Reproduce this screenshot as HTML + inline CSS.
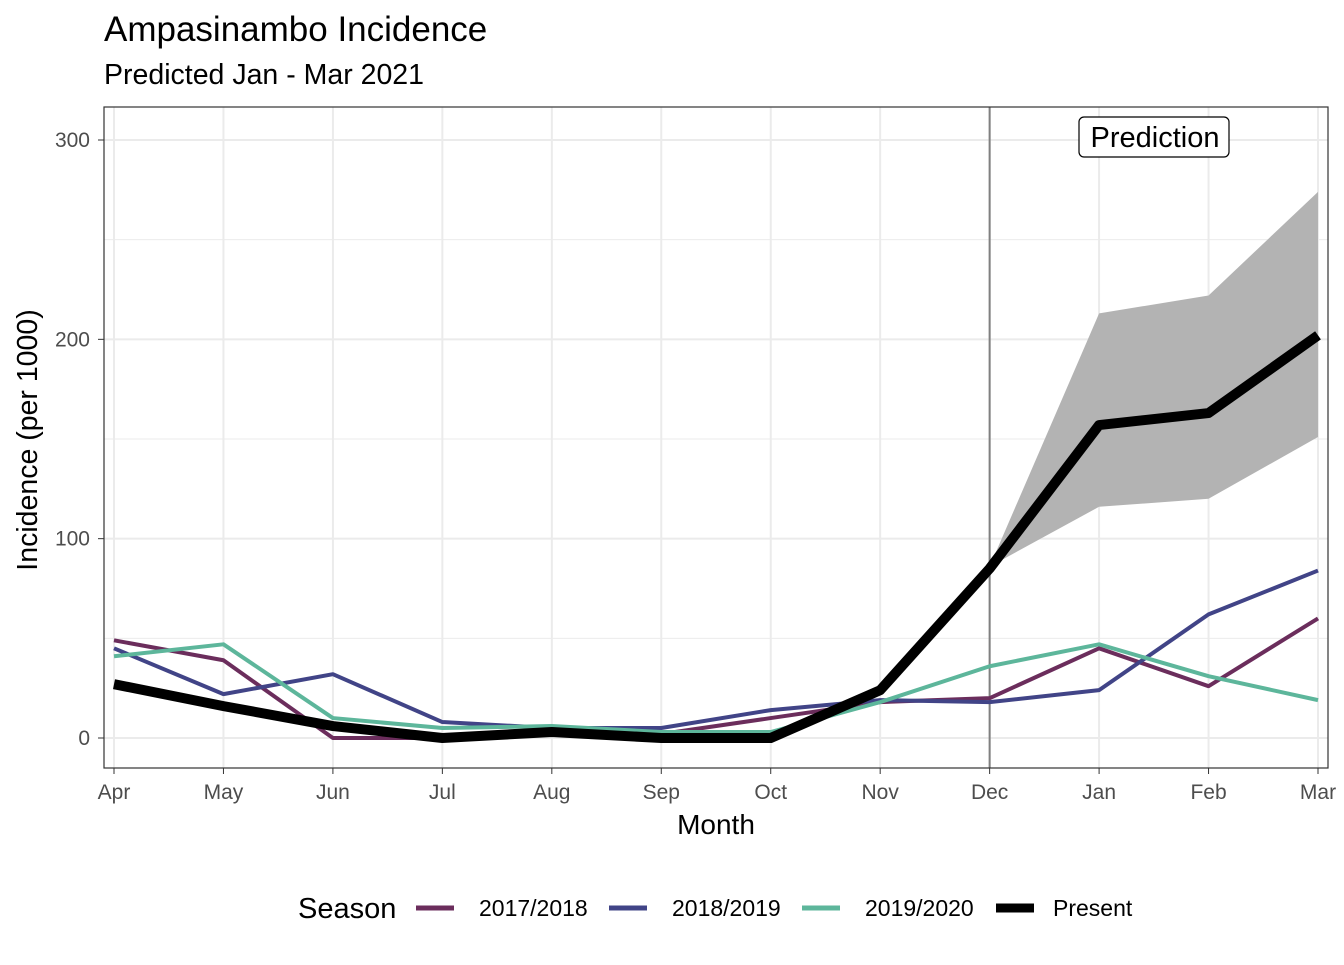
<!DOCTYPE html>
<html><head><meta charset="utf-8"><style>
body{margin:0;background:#fff;font-family:"Liberation Sans",sans-serif;}
svg text{font-family:"Liberation Sans",sans-serif;}
</style></head><body>
<svg id="chart" width="1344" height="960">
<text x="104" y="41" font-size="35" fill="#000">Ampasinambo Incidence</text>
<text x="104" y="84" font-size="28.5" fill="#000">Predicted Jan - Mar 2021</text>
<g id="grid"></g><g id="marks"></g><g id="axes"></g>
<text x="716" y="834" font-size="28" text-anchor="middle">Month</text>
<text transform="translate(37,440) rotate(-90)" font-size="28.5" text-anchor="middle">Incidence (per 1000)</text>
<g id="legend"></g>
</svg>
<script>
const months=["Apr","May","Jun","Jul","Aug","Sep","Oct","Nov","Dec","Jan","Feb","Mar"];
const s2017=[49,39,0,0,3,2,10,18,20,45,26,60];
const s2018=[45,22,32,8,5,5,14,19,18,24,62,84];
const s2019=[41,47,10,5,6,3,3,18,36,47,31,19];
const present=[27,16,6,0,3,0,0,24,85,157,163,202];
const ribbonMonths=[8,9,10,11];
const ribbonLow=[86,116,120,151];
const ribbonHigh=[86,213,222,274];
const yTicks=[0,100,200,300];
const seriesNames=["2017/2018","2018/2019","2019/2020","Present"];
const NS="http://www.w3.org/2000/svg";
const L=104,R=1328,T=107,B=768;
const x=i=>114+i*(1318-114)/11;
const y=v=>738-v*(738-140)/300;
function mk(tag,attrs,parent){const e=document.createElementNS(NS,tag);for(const k in attrs)e.setAttribute(k,attrs[k]);document.getElementById(parent).appendChild(e);return e;}
for(let v=50;v<=300;v+=100){const g=mk('line',{x1:L,x2:R,y1:y(v),y2:y(v),stroke:'#ebebeb','stroke-width':1},'grid');}
yTicks.forEach(v=>{const g=mk('line',{x1:L,x2:R,y1:y(v),y2:y(v),stroke:'#ebebeb','stroke-width':2},'grid');
const t=mk('text',{x:90,y:y(v)+7,'font-size':21,fill:'#4d4d4d','text-anchor':'end'},'axes');t.textContent=v;
mk('line',{x1:98,x2:104,y1:y(v),y2:y(v),stroke:'#333','stroke-width':1},'axes');});
months.forEach((m,i)=>{const g=mk('line',{x1:x(i),x2:x(i),y1:T,y2:B,stroke:'#ebebeb','stroke-width':2},'grid');
const t=mk('text',{x:x(i),y:799,'font-size':21,fill:'#4d4d4d','text-anchor':'middle'},'axes');t.textContent=m;
mk('line',{x1:x(i),x2:x(i),y1:768,y2:774,stroke:'#333','stroke-width':1},'axes');});
let pts=ribbonMonths.map((m,k)=>x(m)+','+y(ribbonHigh[k]));
pts=pts.concat(ribbonMonths.map((m,k)=>x(m)+','+y(ribbonLow[k])).reverse());
const rb=mk('polygon',{points:pts.join(' '),fill:'#b3b3b3'},'marks');

const vl=mk('line',{x1:x(8),x2:x(8),y1:T,y2:B,stroke:'#808080','stroke-width':2},'marks');

const series=[[s2017,'#6b2d5c',4,'line-2017-2018'],[s2018,'#414487',4,'line-2018-2019'],[s2019,'#5db69b',4,'line-2019-2020'],[present,'#000',10,'line-present']];
series.forEach(([d,c,w,n])=>{const p=mk('polyline',{points:d.map((v,i)=>x(i)+','+y(v)).join(' '),fill:'none',stroke:c,'stroke-width':w,'stroke-linejoin':'round'},'marks');});
const bd=mk('rect',{x:L,y:T,width:R-L,height:B-T,fill:'none',stroke:'#333','stroke-width':1.2},'axes');

const lb=mk('rect',{x:1079,y:117,width:150,height:40,rx:5,fill:'#fff',stroke:'#000','stroke-width':1.2},'marks');

const lt=mk('text',{x:1155,y:147,'font-size':29,'text-anchor':'middle'},'marks');lt.textContent='Prediction';

const st=mk('text',{x:298,y:918,'font-size':29},'legend');st.textContent='Season';
const lx=[416,609,802,996];
series.forEach(([d,c,w],k)=>{const l=mk('line',{x1:lx[k],x2:lx[k]+38,y1:908,y2:908,stroke:c,'stroke-width':w===10?9:5},'legend');
const t=mk('text',{x:lx[k]+(k==3?57:63),y:916,'font-size':23},'legend');t.textContent=seriesNames[k];});
</script>
</body></html>
